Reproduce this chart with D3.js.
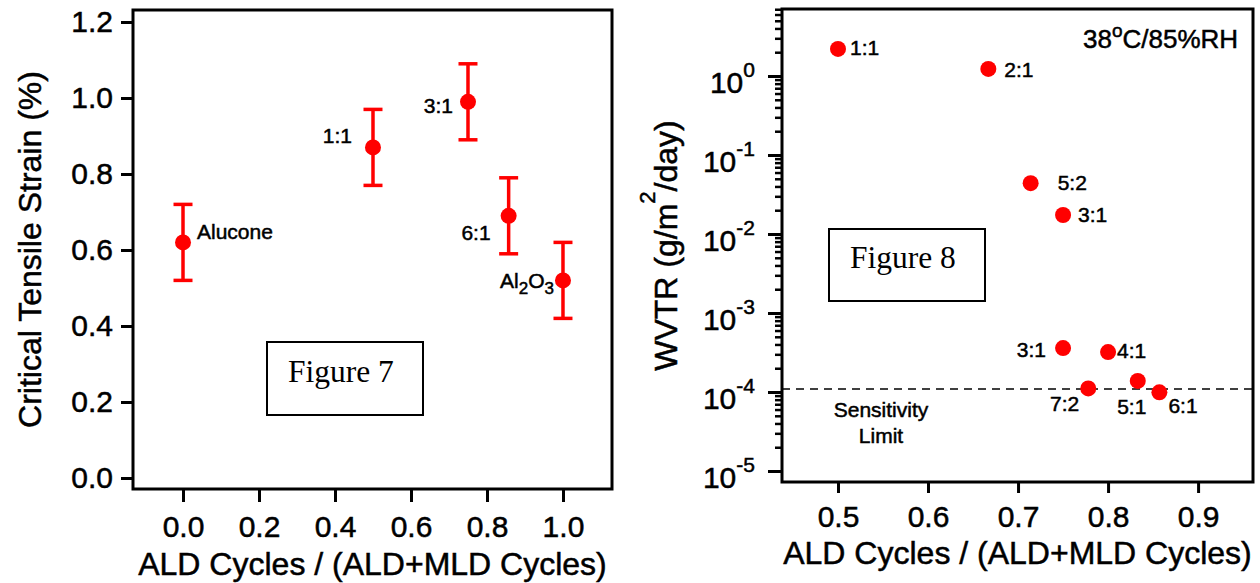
<!DOCTYPE html>
<html>
<head>
<meta charset="utf-8">
<title>Figure 7 / Figure 8</title>
<script src="https://d3js.org/d3.v7.min.js"></script>
<style>
body { margin: 0; background: #fff; }
svg { font-family: "Liberation Sans", Arial, Helvetica, sans-serif; }
svg text { stroke: #000; stroke-width: 0.5px; fill: #000; }
.frame { fill: none; stroke: #000; stroke-width: 3; }
.axis path.domain { display: none; }
.axis line { stroke: #000; stroke-width: 3; }
.axis text { font-size: 30px; font-family: "Liberation Sans", Arial, sans-serif; }
.minor line { stroke-width: 2.5; }
.ptlabel { font-size: 21px; }
.figbox { fill: #fff; stroke: #000; stroke-width: 2; }
svg text.figtxt { font-family: "Liberation Serif", "Times New Roman", serif; font-size: 31.5px; stroke-width: 0; }
.title { font-size: 32px; }
</style>
</head>
<body>
<script>
// ---- Figure 7 data (critical tensile strain) ----
const fig7Names = ["Alucone", "1:1", "3:1", "6:1", "Al2O3"];
const fig7X = [0.0, 0.5, 0.75, 0.857, 1.0];
const fig7Strain = [0.62, 0.87, 0.99, 0.69, 0.52];
const fig7Err = [0.10, 0.10, 0.10, 0.10, 0.10];
const fig7XTicks = [0.0, 0.2, 0.4, 0.6, 0.8, 1.0];
const fig7YTicks = [0.0, 0.2, 0.4, 0.6, 0.8, 1.0, 1.2];

// ---- Figure 8 data (WVTR, log scale) ----
const fig8Names = ["1:1", "2:1", "5:2", "3:1", "3:1", "4:1", "7:2", "5:1", "6:1"];
const fig8X = [0.5, 0.667, 0.714, 0.75, 0.75, 0.8, 0.778, 0.833, 0.857];
const fig8WVTR = [2.2, 1.23, 0.044, 0.0174, 3.6e-4, 3.2e-4, 1.11e-4, 1.38e-4, 9.9e-5];
const fig8XTicks = [0.5, 0.6, 0.7, 0.8, 0.9];
const fig8YExp = [0, -1, -2, -3, -4, -5];
const sensitivityLimit = 1.09e-4;

// label placement (offset from point, anchor)
const fig7LabelPos = [[14, -3, "start"], [-21, -4, "end"], [-15, 11, "end"], [-18, 24, "end"], [-9, 8, "end"]];
const fig8LabelPos = [[12, 6, "start"], [16, 8, "start"], [27, 7, "start"], [15, 7, "start"],
                      [-17, 9, "end"], [9, 6, "start"], [-9, 23, "end"], [-6, 33, "middle"], [9, 21, "start"]];

const RED = "#ff0000";
const svg = d3.select("body").append("svg").attr("width", 1260).attr("height", 583);

// ================= Figure 7 =================
const x7 = d3.scaleLinear().domain([-0.1316, 1.129]).range([133, 612]);
const y7 = d3.scaleLinear().domain([-0.029, 1.2316]).range([489, 10]);
const g7 = svg.append("g");

g7.append("g").attr("class", "axis").attr("transform", `translate(${x7.range()[0]},0)`)
  .call(d3.axisLeft(y7).tickValues(fig7YTicks).tickSize(12).tickPadding(8).tickFormat(d3.format(".1f")));
g7.append("g").attr("class", "axis").attr("transform", `translate(0,${y7.range()[0]})`)
  .call(d3.axisBottom(x7).tickValues(fig7XTicks).tickSize(13).tickPadding(14).tickFormat(d3.format(".1f")));

g7.append("rect").attr("class", "frame")
  .attr("x", x7.range()[0]).attr("y", y7.range()[1])
  .attr("width", x7.range()[1] - x7.range()[0]).attr("height", y7.range()[0] - y7.range()[1]);

const pts7 = fig7X.map((x, i) => ({x, y: fig7Strain[i], e: fig7Err[i], name: fig7Names[i], pos: fig7LabelPos[i]}));
const eb = g7.append("g").attr("stroke", RED).attr("stroke-width", 3.5);
eb.selectAll("line.v").data(pts7).join("line").attr("class", "v")
  .attr("x1", d => x7(d.x)).attr("x2", d => x7(d.x))
  .attr("y1", d => y7(d.y - d.e)).attr("y2", d => y7(d.y + d.e));
eb.selectAll("line.top").data(pts7).join("line").attr("class", "top")
  .attr("x1", d => x7(d.x) - 9.5).attr("x2", d => x7(d.x) + 9.5)
  .attr("y1", d => y7(d.y + d.e)).attr("y2", d => y7(d.y + d.e));
eb.selectAll("line.bot").data(pts7).join("line").attr("class", "bot")
  .attr("x1", d => x7(d.x) - 9.5).attr("x2", d => x7(d.x) + 9.5)
  .attr("y1", d => y7(d.y - d.e)).attr("y2", d => y7(d.y - d.e));
g7.selectAll("circle").data(pts7).join("circle")
  .attr("cx", d => x7(d.x)).attr("cy", d => y7(d.y)).attr("r", 8).attr("fill", RED);

g7.selectAll("text.ptlabel").data(pts7).join("text").attr("class", "ptlabel")
  .attr("x", d => x7(d.x) + d.pos[0]).attr("y", d => y7(d.y) + d.pos[1])
  .attr("text-anchor", d => d.pos[2])
  .each(function(d) {
    const t = d3.select(this);
    if (d.name === "Al2O3") {
      t.append("tspan").text("Al");
      t.append("tspan").attr("dy", 6).attr("font-size", 17).text("2");
      t.append("tspan").attr("dy", -6).text("O");
      t.append("tspan").attr("dy", 6).attr("font-size", 17).text("3");
    } else {
      t.text(d.name);
    }
  });

// Figure 7 box
g7.append("rect").attr("class", "figbox").attr("x", 267).attr("y", 342).attr("width", 156).attr("height", 73);
g7.append("text").attr("class", "figtxt").attr("x", 288).attr("y", 382).text("Figure 7");

g7.append("text").attr("class", "title").attr("text-anchor", "middle")
  .attr("x", d3.mean(x7.range())).attr("y", 575)
  .text("ALD Cycles / (ALD+MLD Cycles)");
g7.append("text").attr("class", "title").attr("text-anchor", "middle")
  .attr("transform", `translate(41,${d3.mean(y7.range())}) rotate(-90)`)
  .text("Critical Tensile Strain (%)");

// ================= Figure 8 =================
const x8 = d3.scaleLinear().domain([0.4378, 0.961]).range([782, 1253]);
const y8 = d3.scaleLog().domain([10 ** -5.139, 10 ** 0.848]).range([482, 9]);
const g8 = svg.append("g");

const majors = fig8YExp.map(e => 10 ** e);
const minors = [];
fig8YExp.forEach(e => { for (let m = 2; m <= 9; m++) { const v = m * 10 ** e; if (v <= y8.domain()[1]) minors.push(v); } });
g8.append("g").attr("class", "axis minor").attr("transform", `translate(${x8.range()[0]},0)`)
  .call(d3.axisLeft(y8).tickValues(minors).tickSize(7).tickFormat(""));
g8.append("g").attr("class", "axis").attr("transform", `translate(${x8.range()[0]},0)`)
  .call(d3.axisLeft(y8).tickValues(majors).tickSize(14).tickFormat(""));
g8.append("g").attr("class", "axis").attr("transform", `translate(0,${y8.range()[0]})`)
  .call(d3.axisBottom(x8).tickValues(fig8XTicks).tickSize(11).tickPadding(13).tickFormat(d3.format(".1f")));

// log tick labels 10^n
g8.selectAll("text.ylab").data(fig8YExp).join("text").attr("class", "ylab")
  .attr("x", 755).attr("y", d => y8(10 ** d) + 17).attr("text-anchor", "end")
  .attr("font-size", 30)
  .each(function(d) {
    const t = d3.select(this);
    t.append("tspan").text("10");
    t.append("tspan").attr("dy", -16).attr("font-size", 21).text(d === 0 ? "0" : "-" + Math.abs(d));
  });

g8.append("rect").attr("class", "frame")
  .attr("x", x8.range()[0]).attr("y", y8.range()[1])
  .attr("width", x8.range()[1] - x8.range()[0]).attr("height", y8.range()[0] - y8.range()[1]);

// sensitivity limit
g8.append("line").attr("x1", x8.range()[0]).attr("x2", x8.range()[1])
  .attr("y1", y8(sensitivityLimit)).attr("y2", y8(sensitivityLimit))
  .attr("stroke", "#000").attr("stroke-width", 1.5).attr("stroke-dasharray", "8,6");
g8.append("text").attr("class", "ptlabel").attr("font-size", 22).attr("text-anchor", "middle")
  .attr("x", 881).attr("y", 417).text("Sensitivity");
g8.append("text").attr("class", "ptlabel").attr("font-size", 22).attr("text-anchor", "middle")
  .attr("x", 881).attr("y", 443).text("Limit");

const pts8 = fig8X.map((x, i) => ({x, y: fig8WVTR[i], name: fig8Names[i], pos: fig8LabelPos[i]}));
g8.selectAll("circle").data(pts8).join("circle")
  .attr("cx", d => x8(d.x)).attr("cy", d => y8(d.y)).attr("r", 8).attr("fill", RED);
g8.selectAll("text.ptlabel8").data(pts8).join("text").attr("class", "ptlabel ptlabel8")
  .attr("x", d => x8(d.x) + d.pos[0]).attr("y", d => y8(d.y) + d.pos[1])
  .attr("text-anchor", d => d.pos[2]).text(d => d.name);

// condition label
const cond = g8.append("text").attr("x", 1083).attr("y", 48).attr("font-size", 26);
cond.append("tspan").text("38");
cond.append("tspan").attr("dy", -11).attr("font-size", 19).text("o");
cond.append("tspan").attr("dy", 11).text("C/85%RH");

// Figure 8 box
g8.append("rect").attr("class", "figbox").attr("x", 829).attr("y", 229).attr("width", 156).attr("height", 72);
g8.append("text").attr("class", "figtxt").attr("x", 850).attr("y", 268).text("Figure 8");

g8.append("text").attr("class", "title").attr("text-anchor", "middle")
  .attr("x", d3.mean(x8.range())).attr("y", 564)
  .text("ALD Cycles / (ALD+MLD Cycles)");
const yt = g8.append("text").attr("class", "title").attr("text-anchor", "middle")
  .attr("transform", `translate(677,${d3.mean(y8.range())}) rotate(-90)`);
yt.append("tspan").text("WVTR (g/m");
yt.append("tspan").attr("dy", -22).attr("font-size", 22).text("2");
yt.append("tspan").attr("dy", 22).text("/day)");
</script>
</body>
</html>
